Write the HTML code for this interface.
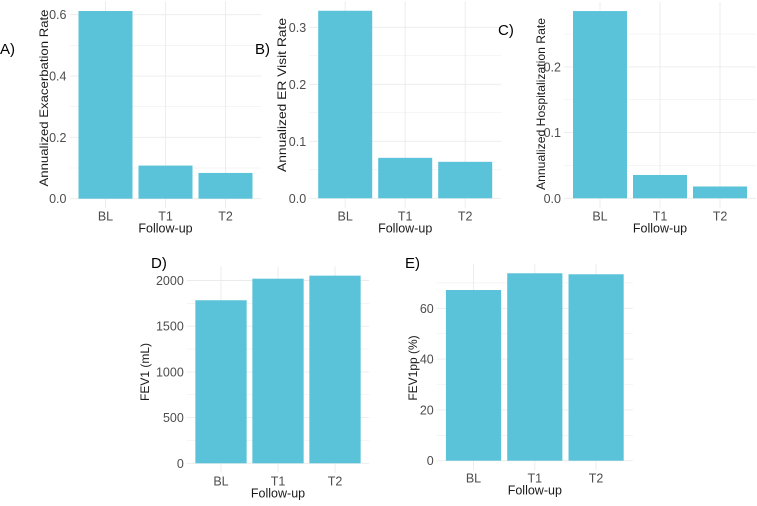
<!DOCTYPE html>
<html><head><meta charset="utf-8"><style>
body{margin:0;background:#fff;width:757px;height:501px;overflow:hidden}
svg{font-family:"Liberation Sans",sans-serif}
</style></head><body>
<svg id="c" width="757" height="501" viewBox="0 0 757 501"></svg>
<script>
const categories = ["BL","T1","T2"];
const exacerbationRate = [0.612, 0.108, 0.084];
const erVisitRate = [0.329, 0.071, 0.064];
const hospitalizationRate = [0.285, 0.0355, 0.018];
const fev1 = [1784, 2020, 2053];
const fev1pp = [67.2, 73.8, 73.4];
const ticksA = [0, 0.2, 0.4, 0.6];
const tickLabelsA = ["0.0","0.2","0.4","0.6"];
const ticksB = [0, 0.1, 0.2, 0.3];
const tickLabelsB = ["0.0","0.1","0.2","0.3"];
const ticksC = [0, 0.1, 0.2];
const tickLabelsC = ["0.0","0.1","0.2"];
const ticksD = [0, 500, 1000, 1500, 2000];
const tickLabelsD = ["0","500","1000","1500","2000"];
const ticksE = [0, 20, 40, 60];
const tickLabelsE = ["0","20","40","60"];

const svg = document.getElementById('c');
const NS = 'http://www.w3.org/2000/svg';
function mk(tag, attrs, parent){
  const e = document.createElementNS(NS, tag);
  for (const k in attrs) e.setAttribute(k, attrs[k]);
  (parent||svg).appendChild(e);
  return e;
}
function panel(cfg){
  const g = mk('g', {});
  
  
  const xs = i => cfg.x0 + i*cfg.sp;
  const ys = v => cfg.zero - v*cfg.scale;
  const left = cfg.x0 - 0.6*cfg.sp, right = xs(categories.length-1) + 0.6*cfg.sp;
  const maxV = Math.max(...cfg.values);
  const top = ys(maxV*1.05), bottom = ys(-maxV*0.05);
  const step = cfg.ticks[1]-cfg.ticks[0];
  for (let t = 0; ys(t) >= top; t += step/2){
    const gl = mk('line', {x1:left, x2:right, y1:ys(t), y2:ys(t), stroke:'#ebebeb', 'stroke-width': (Math.abs(t/step - Math.round(t/step))<1e-6)?0.9:0.5}, g);
    
    
  }
  categories.forEach((c,i)=>{
    const gl = mk('line', {x1:xs(i), x2:xs(i), y1:top, y2:bottom, stroke:'#ebebeb', 'stroke-width':0.9}, g);
    
    
  });
  cfg.values.forEach((v,i)=>{
    const w = 0.9*cfg.sp;
    const b = mk('rect', {x:xs(i)-w/2, y:ys(v), width:w, height:ys(0)-ys(v), fill:'#5bc3d9'}, g);
    
    
    const t = mk('text', {x:xs(i), y:ys(0)+22, 'text-anchor':'middle', 'font-size':12.5, fill:'#4d4d4d'}, g);
    t.textContent = categories[i];
    
    
  });
  cfg.ticks.forEach((tv,i)=>{
    const t = mk('text', {x:left-3, y:ys(tv)+4.5, 'text-anchor':'end', 'font-size':12.5, fill:'#4d4d4d'}, g);
    t.textContent = cfg.labels[i];
    
    
  });
  const xt = mk('text', {x:xs(1), y:ys(0)+34, 'text-anchor':'middle', 'font-size':12.5, fill:'#1a1a1a'}, g);
  xt.textContent = 'Follow-up';
  
  
  const ya = {x:0, y:0, 'text-anchor':'middle', 'font-size':12, fill:'#1a1a1a', transform:`translate(${cfg.ytx},${cfg.ytc}) rotate(-90)`};
  if (cfg.ylen) { ya.textLength = cfg.ylen; ya.lengthAdjust = 'spacingAndGlyphs'; }
  const yt = mk('text', ya, g);
  yt.textContent = cfg.ytitle;
  
  
  const tg = mk('text', {x:cfg.tag[0], y:cfg.tag[1], 'font-size':15, fill:'#000'}, g);
  tg.textContent = cfg.tagText;
  
  
}
panel({name:'panel-a', values:exacerbationRate, ticks:ticksA, labels:tickLabelsA, x0:105.5, sp:60, zero:198.7, scale:306.7, ytitle:'Annualized Exacerbation Rate', ylen:177, ytc:98, ytx:48, tag:[0,54], tagText:'A)'});
panel({name:'panel-b', values:erVisitRate, ticks:ticksB, labels:tickLabelsB, x0:345.2, sp:60, zero:198.3, scale:570, ytitle:'Annualized ER Visit Rate', ylen:154, ytc:95, ytx:286, tag:[255,54], tagText:'B)'});
panel({name:'panel-c', values:hospitalizationRate, ticks:ticksC, labels:tickLabelsC, x0:600, sp:60, zero:198.3, scale:657, ytitle:'Annualized Hospitalization Rate', ylen:172, ytc:104, ytx:545, tag:[498,35], tagText:'C)'});
panel({name:'panel-d', values:fev1, ticks:ticksD, labels:tickLabelsD, x0:221, sp:57, zero:463.3, scale:0.0914, ytitle:'FEV1 (mL)', ytc:372, ytx:149, tag:[151,268], tagText:'D)'});
panel({name:'panel-e', values:fev1pp, ticks:ticksE, labels:tickLabelsE, x0:473.5, sp:61.3, zero:460.7, scale:2.54, ytitle:'FEV1pp (%)', ytc:368, ytx:417, tag:[405,268], tagText:'E)'});
</script>
</body></html>
